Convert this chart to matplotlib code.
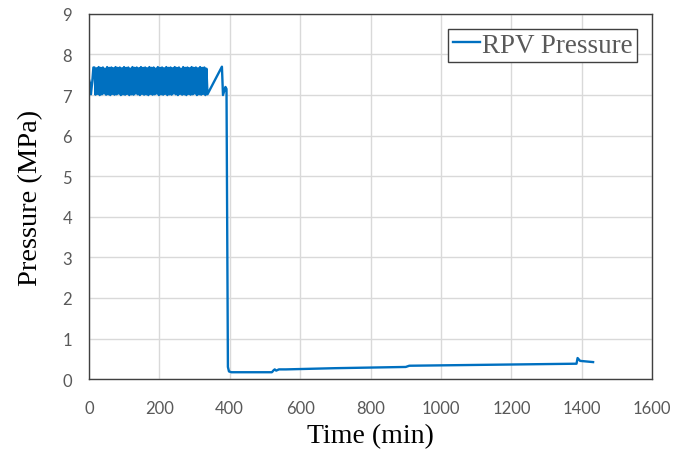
import matplotlib
matplotlib.use("Agg")
import matplotlib.pyplot as plt

# start-up, before the oscillation block
start_time = [0, 3, 6, 10, 13]
start_pressure = [7.40, 7.30, 7.02, 7.35, 7.68]

# oscillating pressure while the relief valve cycles (min, MPa)
osc_time = [16, 19, 22, 25, 28, 31, 34, 37, 40, 43, 46, 49,
            52, 55, 58, 61, 64, 67, 70, 73, 76, 79, 82, 85,
            88, 91, 94, 97, 100, 103, 106, 109, 112, 115, 118, 121,
            124, 127, 130, 133, 136, 139, 142, 145, 148, 151, 154, 157,
            160, 163, 166, 169, 172, 175, 178, 181, 184, 187, 190, 193,
            196, 199, 202, 205, 208, 211, 214, 217, 220, 223, 226, 229,
            232, 235, 238, 241, 244, 247, 250, 253, 256, 259, 262, 265,
            268, 271, 274, 277, 280, 283, 286, 289, 292, 295, 298, 301,
            304, 307, 310, 313, 316, 319, 322, 325, 328, 331, 334, 337]
osc_pressure = [7.68, 7.01, 7.66, 7.03, 7.69, 7.00, 7.67, 7.02, 7.68, 7.04, 7.65, 7.01,
                7.69, 7.02, 7.67, 7.00, 7.68, 7.03, 7.66, 7.01, 7.69, 7.02, 7.67, 7.04,
                7.68, 7.00, 7.66, 7.02, 7.69, 7.01, 7.67, 7.03, 7.68, 7.00, 7.65, 7.02,
                7.69, 7.01, 7.67, 7.04, 7.68, 7.02, 7.66, 7.00, 7.69, 7.03, 7.67, 7.01,
                7.68, 7.02, 7.66, 7.00, 7.69, 7.03, 7.67, 7.01, 7.68, 7.02, 7.65, 7.04,
                7.69, 7.00, 7.67, 7.02, 7.68, 7.01, 7.66, 7.03, 7.69, 7.00, 7.67, 7.02,
                7.68, 7.01, 7.66, 7.04, 7.69, 7.02, 7.67, 7.00, 7.68, 7.03, 7.65, 7.01,
                7.69, 7.02, 7.67, 7.00, 7.68, 7.03, 7.66, 7.01, 7.69, 7.02, 7.67, 7.04,
                7.68, 7.00, 7.66, 7.02, 7.69, 7.01, 7.67, 7.03, 7.68, 7.00, 7.65, 7.02]

# depressurisation and long-term tail
tail_time = [378, 381, 388, 391, 395, 398, 405, 520, 525, 528, 532, 540, 560,
             700, 900, 910, 1100, 1385, 1388, 1395, 1432]
tail_pressure = [7.70, 7.00, 7.20, 7.15, 0.30, 0.19, 0.17, 0.17, 0.22, 0.24, 0.21, 0.24, 0.24,
                 0.27, 0.30, 0.33, 0.35, 0.38, 0.52, 0.45, 0.42]

time = start_time + osc_time + tail_time
pressure = start_pressure + osc_pressure + tail_pressure

fig = plt.figure(figsize=(6.78, 4.52), dpi=100)
ax = fig.add_axes([0.131, 0.159, 0.831, 0.808])

ax.plot(time, pressure, color="#0070C0", lw=1.7, label="RPV Pressure")

ax.set_xlim(0, 1600)
ax.set_ylim(0, 9)
ax.set_xticks(range(0, 1601, 200))
ax.set_yticks(range(0, 10))
ax.grid(True, color="#D9D9D9", lw=1)
ax.set_axisbelow(True)
for s in ax.spines.values():
    s.set_color("#404040")
    s.set_linewidth(1.0)
ax.tick_params(length=0, labelsize=12, labelcolor="#595959")
ax.tick_params(axis="x", pad=15)
ax.tick_params(axis="y", pad=12)
for lbl in ax.get_xticklabels() + ax.get_yticklabels():
    lbl.set_family("Lato")

serif = "Liberation Serif"
ax.set_xlabel("Time (min)", family=serif, fontsize=20, labelpad=5)
ax.set_ylabel("Pressure (MPa)", family=serif, fontsize=20.5, labelpad=14)

leg = ax.legend(loc="upper right", bbox_to_anchor=(0.973, 0.96), fancybox=False,
                framealpha=1, edgecolor="#404040", handlelength=1.0, handletextpad=0.1,
                borderpad=0.15, borderaxespad=0.0, prop={"family": serif, "size": 19.5})
leg.get_frame().set_linewidth(1.0)
for t in leg.get_texts():
    t.set_color("#595959")

fig.savefig("out.png", dpi=100)
